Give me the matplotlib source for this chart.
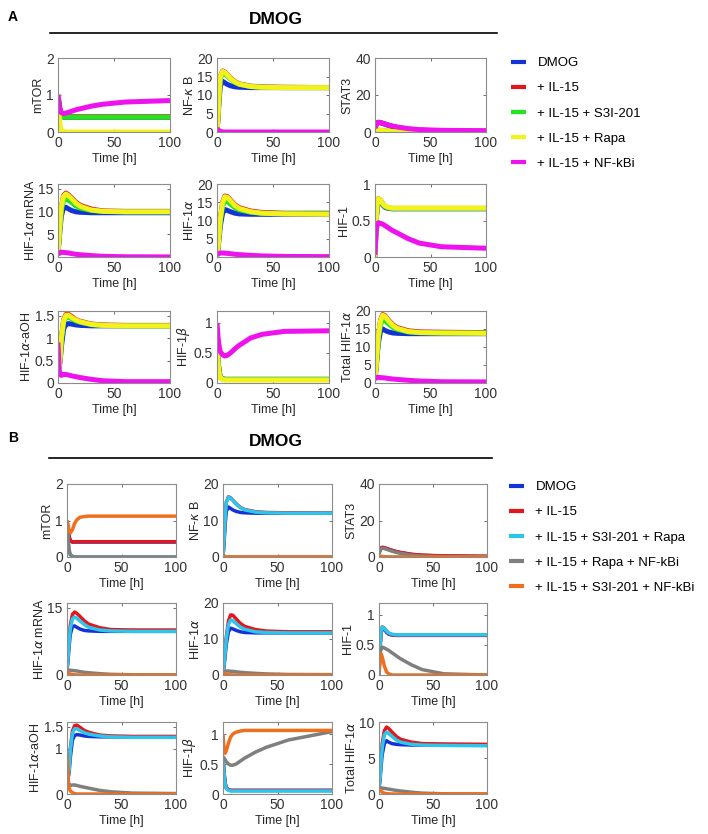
import numpy as np
import matplotlib.pyplot as plt
from matplotlib.lines import Line2D

plt.rcParams['font.family'] = ['Liberation Sans', 'DejaVu Sans']
plt.rcParams['mathtext.fontset'] = 'dejavusans'

W, H = 708, 834

# time points [h]
t = [0, 1, 2, 3, 5, 7, 9, 12, 16, 20, 30, 40, 60, 100]

labels_a = ['DMOG', '+ IL-15', '+ IL-15 + S3I-201', '+ IL-15 + Rapa', '+ IL-15 + NF-kBi']
labels_b = ['DMOG', '+ IL-15', '+ IL-15 + S3I-201 + Rapa', '+ IL-15 + Rapa + NF-kBi',
            '+ IL-15 + S3I-201 + NF-kBi']
colors_a = ['#1433d6', '#e3161c', '#1fe61f', '#f2f21c', '#ee12ee']
colors_b = ['#1433d6', '#e3161c', '#2cc6ec', '#7f7f7f', '#ee701e']

ylabels = ['mTOR', r'NF-$\kappa$ B', 'STAT3', r'HIF-1$\alpha$ mRNA', r'HIF-1$\alpha$', 'HIF-1',
           r'HIF-1$\alpha$-aOH', r'HIF-1$\beta$', r'Total HIF-1$\alpha$']

ylims_a = [2, 20, 40, 16, 20, 1, 1.6, 1.2, 20]
yticks_a = [[0, 1, 2], [0, 5, 10, 15, 20], [0, 20, 40], [0, 5, 10, 15], [0, 5, 10, 15, 20],
            [0, 0.5, 1], [0, 0.5, 1, 1.5], [0, 0.5, 1], [0, 5, 10, 15, 20]]
ylims_b = [2, 20, 40, 16, 20, 1.2, 1.6, 1.2, 10]
yticks_b = [[0, 1, 2], [0, 10, 20], [0, 20, 40], [0, 15], [0, 10, 20],
            [0, 0.5, 1], [0, 1, 1.5], [0, 0.5, 1], [0, 5, 10]]

# ---------- panel A ----------
a_mtor = [
    [1, 0.75, 0.55, 0.45, 0.40, 0.40, 0.40, 0.40, 0.40, 0.40, 0.40, 0.40, 0.40, 0.40],
    [1, 0.75, 0.55, 0.45, 0.41, 0.41, 0.41, 0.41, 0.41, 0.41, 0.41, 0.41, 0.41, 0.41],
    [1, 0.72, 0.52, 0.43, 0.40, 0.40, 0.40, 0.40, 0.40, 0.40, 0.40, 0.40, 0.40, 0.40],
    [1, 0.45, 0.15, 0.05, 0.01, 0, 0, 0, 0, 0, 0, 0, 0, 0],
    [1, 0.75, 0.58, 0.52, 0.50, 0.51, 0.53, 0.56, 0.60, 0.63, 0.70, 0.75, 0.81, 0.85],
]
a_nfkb = [
    [0, 4, 9, 12.5, 13.7, 13.3, 12.9, 12.5, 12.2, 12.1, 12.0, 12.0, 12.0, 12.0],
    [0, 5, 11, 15, 16.5, 16.2, 15.6, 14.6, 13.6, 13.0, 12.4, 12.2, 12.1, 12.0],
    [0, 5, 10.5, 14.5, 16.0, 15.8, 15.2, 14.3, 13.4, 12.9, 12.3, 12.1, 12.0, 12.0],
    [0, 5, 11, 15, 16.4, 16.1, 15.5, 14.5, 13.5, 12.9, 12.3, 12.1, 12.0, 12.0],
    [1, 0.6, 0.3, 0.15, 0.05, 0, 0, 0, 0, 0, 0, 0, 0, 0],
]
a_stat3 = [
    [2, 3.8, 4.8, 5.2, 5.0, 4.6, 4.2, 3.6, 2.9, 2.4, 1.4, 0.9, 0.5, 0.3],
    [2, 3.9, 4.9, 5.3, 5.1, 4.7, 4.3, 3.7, 3.0, 2.5, 1.5, 1.0, 0.6, 0.4],
    [1, 1.2, 1.1, 1.0, 0.8, 0.7, 0.6, 0.5, 0.35, 0.25, 0.1, 0.05, 0.02, 0],
    [1, 1.5, 1.5, 1.3, 1.0, 0.8, 0.6, 0.4, 0.25, 0.15, 0.05, 0.02, 0, 0],
    [2, 4.0, 4.9, 5.2, 5.0, 4.7, 4.4, 3.8, 3.2, 2.7, 1.8, 1.3, 0.9, 0.7],
]
a_mrna = [
    [1, 3.5, 6.5, 9, 10.8, 10.9, 10.6, 10.2, 9.9, 9.8, 9.7, 9.7, 9.7, 9.7],
    [1, 4.5, 8, 11, 13.5, 14.0, 13.7, 13.0, 12.0, 11.3, 10.5, 10.1, 10.0, 10.0],
    [1, 4.2, 7.5, 10.3, 12.5, 12.8, 12.5, 12.0, 11.2, 10.7, 10.2, 10.0, 9.9, 9.9],
    [1, 4.5, 8, 11, 13.3, 13.8, 13.5, 12.8, 11.8, 11.1, 10.3, 10.0, 9.9, 9.9],
    [0.5, 0.8, 1.0, 1.05, 1.0, 0.95, 0.9, 0.75, 0.6, 0.5, 0.3, 0.15, 0.05, 0.02],
]
a_hif1a = [
    [0.5, 2.5, 5.5, 8.5, 12, 13, 12.8, 12.4, 12.0, 11.8, 11.7, 11.7, 11.7, 11.7],
    [0.5, 3, 7, 10.5, 15, 16.7, 16.6, 15.6, 14.3, 13.5, 12.6, 12.2, 12.0, 12.0],
    [0.5, 3, 6.5, 10, 14, 15.5, 15.3, 14.5, 13.5, 12.9, 12.3, 12.0, 11.9, 11.9],
    [0.5, 3, 7, 10.5, 14.8, 16.5, 16.4, 15.4, 14.1, 13.3, 12.4, 12.0, 11.8, 11.7],
    [0.5, 0.8, 1.0, 1.1, 1.1, 1.05, 1.0, 0.9, 0.75, 0.65, 0.45, 0.3, 0.15, 0.1],
]
a_hif1 = [
    [0, 0.45, 0.7, 0.78, 0.76, 0.71, 0.68, 0.665, 0.66, 0.66, 0.66, 0.66, 0.66, 0.66],
    [0, 0.48, 0.72, 0.8, 0.78, 0.73, 0.69, 0.67, 0.665, 0.665, 0.665, 0.665, 0.665, 0.665],
    [0, 0.47, 0.71, 0.79, 0.77, 0.72, 0.69, 0.67, 0.665, 0.665, 0.665, 0.665, 0.665, 0.665],
    [0, 0.5, 0.73, 0.8, 0.78, 0.73, 0.7, 0.68, 0.67, 0.67, 0.67, 0.67, 0.67, 0.67],
    [0.03, 0.35, 0.45, 0.47, 0.46, 0.45, 0.43, 0.40, 0.36, 0.33, 0.25, 0.19, 0.14, 0.12],
]
a_aoh = [
    [0.9, 0.35, 0.5, 0.8, 1.2, 1.3, 1.32, 1.31, 1.29, 1.28, 1.27, 1.27, 1.27, 1.27],
    [0.9, 0.35, 0.6, 1.0, 1.4, 1.52, 1.53, 1.48, 1.41, 1.37, 1.31, 1.29, 1.28, 1.28],
    [0.9, 0.35, 0.55, 0.95, 1.35, 1.46, 1.47, 1.43, 1.38, 1.35, 1.30, 1.28, 1.27, 1.27],
    [0.9, 0.35, 0.6, 1.0, 1.38, 1.5, 1.51, 1.46, 1.40, 1.36, 1.30, 1.28, 1.27, 1.27],
    [0.9, 0.3, 0.18, 0.17, 0.19, 0.19, 0.18, 0.16, 0.14, 0.12, 0.08, 0.05, 0.03, 0.03],
]
a_hif1b = [
    [0.6, 0.35, 0.18, 0.1, 0.07, 0.06, 0.06, 0.06, 0.06, 0.06, 0.06, 0.06, 0.06, 0.06],
    [0.6, 0.35, 0.18, 0.1, 0.07, 0.06, 0.06, 0.06, 0.06, 0.06, 0.06, 0.06, 0.06, 0.06],
    [0.6, 0.35, 0.18, 0.1, 0.07, 0.06, 0.06, 0.06, 0.06, 0.06, 0.06, 0.06, 0.06, 0.06],
    [0.6, 0.3, 0.15, 0.08, 0.06, 0.05, 0.05, 0.05, 0.05, 0.05, 0.05, 0.05, 0.05, 0.05],
    [1, 0.75, 0.6, 0.52, 0.47, 0.45, 0.46, 0.5, 0.57, 0.63, 0.75, 0.81, 0.86, 0.87],
]
a_total = [
    [1.5, 4, 7.5, 11, 14.5, 15, 14.6, 14.2, 13.9, 13.8, 13.7, 13.7, 13.7, 13.7],
    [1.5, 4.5, 9, 13, 17.5, 19, 18.7, 17.5, 16.2, 15.4, 14.5, 14.2, 14.1, 14.0],
    [1.5, 4.5, 8.5, 12.5, 16.3, 17.6, 17.3, 16.5, 15.5, 14.9, 14.2, 14.0, 13.9, 13.9],
    [1.5, 4.5, 9, 13, 17.3, 18.8, 18.5, 17.3, 16.0, 15.2, 14.3, 14.0, 13.9, 13.8],
    [1, 1.4, 1.6, 1.6, 1.5, 1.45, 1.4, 1.25, 1.1, 1.0, 0.75, 0.55, 0.35, 0.3],
]

# ---------- panel B ----------
b_mtor = [
    [1, 0.75, 0.55, 0.45, 0.41, 0.41, 0.41, 0.41, 0.41, 0.41, 0.41, 0.41, 0.41, 0.41],
    [1, 0.75, 0.55, 0.45, 0.41, 0.42, 0.42, 0.42, 0.42, 0.42, 0.42, 0.42, 0.42, 0.42],
    [1, 0.45, 0.15, 0.05, 0.01, 0, 0, 0, 0, 0, 0, 0, 0, 0],
    [1, 0.5, 0.2, 0.07, 0.02, 0, 0, 0, 0, 0, 0, 0, 0, 0],
    [1, 0.85, 0.72, 0.66, 0.75, 0.92, 1.02, 1.09, 1.11, 1.12, 1.12, 1.12, 1.12, 1.12],
]
b_nfkb = [
    [0, 4, 9, 12.5, 13.7, 13.3, 12.9, 12.5, 12.2, 12.1, 12.0, 12.0, 12.0, 12.0],
    [0, 5, 11, 15, 16.5, 16.2, 15.6, 14.6, 13.6, 13.0, 12.4, 12.2, 12.1, 12.0],
    [0, 5, 11, 15, 16.4, 16.1, 15.5, 14.5, 13.5, 12.9, 12.3, 12.1, 12.0, 12.0],
    [0.5, 0.3, 0.1, 0, 0, 0, 0, 0, 0, 0, 0, 0, 0, 0],
    [0.5, 0.3, 0.1, 0, 0, 0, 0, 0, 0, 0, 0, 0, 0, 0],
]
b_stat3 = [
    [2, 3.8, 4.8, 5.2, 5.0, 4.6, 4.2, 3.6, 2.9, 2.4, 1.4, 0.9, 0.5, 0.3],
    [2, 3.9, 4.9, 5.3, 5.1, 4.7, 4.3, 3.7, 3.0, 2.5, 1.5, 1.0, 0.6, 0.4],
    [0.5, 0.5, 0.4, 0.3, 0.2, 0.1, 0.05, 0, 0, 0, 0, 0, 0, 0],
    [2, 3.6, 4.5, 4.8, 4.6, 4.2, 3.8, 3.2, 2.5, 2.0, 1.0, 0.5, 0.2, 0.1],
    [0.5, 0.4, 0.3, 0.2, 0.1, 0.05, 0, 0, 0, 0, 0, 0, 0, 0],
]
b_mrna = [
    [1, 3.5, 6.5, 9, 10.8, 10.9, 10.6, 10.2, 9.9, 9.8, 9.7, 9.7, 9.7, 9.7],
    [1, 4.5, 8, 11, 13.5, 14.0, 13.7, 13.0, 12.0, 11.3, 10.5, 10.1, 10.0, 10.0],
    [1, 4.2, 7.5, 10.3, 12.5, 12.9, 12.6, 12.0, 11.2, 10.6, 10.0, 9.8, 9.7, 9.7],
    [1, 1.1, 1.1, 1.05, 1.0, 0.95, 0.9, 0.75, 0.6, 0.5, 0.3, 0.15, 0.05, 0.02],
    [1, 0.6, 0.35, 0.2, 0.1, 0.05, 0, 0, 0, 0, 0, 0, 0, 0],
]
b_hif1a = [
    [0.5, 2.5, 5.5, 8.5, 12, 13, 12.8, 12.4, 12.0, 11.8, 11.7, 11.7, 11.7, 11.7],
    [0.5, 3, 7, 10.5, 15, 16.7, 16.6, 15.6, 14.3, 13.5, 12.6, 12.2, 12.0, 12.0],
    [0.5, 3, 6.5, 10, 14, 15.3, 15.1, 14.3, 13.3, 12.7, 12.0, 11.8, 11.7, 11.7],
    [0.5, 0.8, 1.0, 1.1, 1.1, 1.05, 1.0, 0.9, 0.75, 0.65, 0.45, 0.3, 0.15, 0.1],
    [0.5, 0.5, 0.35, 0.2, 0.1, 0.05, 0.02, 0, 0, 0, 0, 0, 0, 0],
]
b_hif1 = [
    [0, 0.45, 0.7, 0.78, 0.76, 0.71, 0.68, 0.665, 0.66, 0.66, 0.66, 0.66, 0.66, 0.66],
    [0, 0.48, 0.72, 0.8, 0.78, 0.73, 0.69, 0.67, 0.665, 0.665, 0.665, 0.665, 0.665, 0.665],
    [0, 0.5, 0.73, 0.8, 0.78, 0.73, 0.7, 0.68, 0.67, 0.67, 0.67, 0.67, 0.67, 0.67],
    [0.03, 0.35, 0.44, 0.46, 0.45, 0.43, 0.41, 0.37, 0.32, 0.27, 0.17, 0.09, 0.02, 0],
    [0.03, 0.3, 0.35, 0.3, 0.15, 0.05, 0.02, 0, 0, 0, 0, 0, 0, 0],
]
b_aoh = [
    [0.9, 0.35, 0.5, 0.8, 1.2, 1.3, 1.32, 1.31, 1.29, 1.28, 1.27, 1.27, 1.27, 1.27],
    [0.9, 0.35, 0.6, 1.0, 1.4, 1.52, 1.53, 1.48, 1.41, 1.37, 1.31, 1.29, 1.28, 1.28],
    [0.9, 0.35, 0.55, 0.95, 1.35, 1.45, 1.45, 1.41, 1.36, 1.33, 1.29, 1.27, 1.26, 1.26],
    [0.9, 0.3, 0.19, 0.19, 0.2, 0.2, 0.19, 0.17, 0.15, 0.13, 0.08, 0.05, 0.02, 0.01],
    [0.9, 0.3, 0.13, 0.07, 0.03, 0.01, 0, 0, 0, 0, 0, 0, 0, 0],
]
b_hif1b = [
    [0.6, 0.35, 0.18, 0.1, 0.07, 0.06, 0.06, 0.06, 0.06, 0.06, 0.06, 0.06, 0.06, 0.06],
    [0.6, 0.35, 0.18, 0.1, 0.07, 0.06, 0.06, 0.06, 0.06, 0.06, 0.06, 0.06, 0.06, 0.06],
    [0.6, 0.33, 0.16, 0.09, 0.06, 0.05, 0.05, 0.05, 0.05, 0.05, 0.05, 0.05, 0.05, 0.05],
    [0.62, 0.6, 0.57, 0.54, 0.5, 0.48, 0.48, 0.5, 0.55, 0.6, 0.7, 0.78, 0.9, 1.04],
    [1, 0.72, 0.68, 0.72, 0.85, 0.95, 1.0, 1.03, 1.05, 1.06, 1.06, 1.06, 1.06, 1.06],
]
b_total = [
    [0.8, 2, 4, 5.5, 7, 7.4, 7.2, 7.0, 6.9, 6.85, 6.8, 6.8, 6.8, 6.8],
    [0.8, 2.5, 5, 7, 8.8, 9.3, 9.1, 8.6, 8.0, 7.6, 7.2, 7.0, 6.95, 6.9],
    [0.8, 2.3, 4.7, 6.5, 8.2, 8.6, 8.4, 8.0, 7.5, 7.2, 6.9, 6.8, 6.75, 6.7],
    [0.8, 0.85, 0.85, 0.82, 0.78, 0.73, 0.68, 0.6, 0.5, 0.42, 0.25, 0.12, 0.03, 0],
    [0.8, 0.6, 0.4, 0.25, 0.1, 0.05, 0.02, 0, 0, 0, 0, 0, 0, 0],
]

data_a = [a_mtor, a_nfkb, a_stat3, a_mrna, a_hif1a, a_hif1, a_aoh, a_hif1b, a_total]
data_b = [b_mtor, b_nfkb, b_stat3, b_mrna, b_hif1a, b_hif1, b_aoh, b_hif1b, b_total]


def px_box(x1, y1, x2, y2):
    return [x1 / W, 1 - y2 / H, (x2 - x1) / W, (y2 - y1) / H]


def draw_panel(fig, data, labels, colors, ylims, yticks, cols, rows, lw,
               letter, letter_y, title_y, rule, legend_xy):
    lines = []
    for k, series in enumerate(data):
        x1, x2 = cols[k % 3]
        y1, y2 = rows[k // 3]
        ax = fig.add_axes(px_box(x1, y1, x2, y2))
        for vals, c in zip(series, colors):
            ln, = ax.plot(t, vals, color=c, lw=lw, solid_capstyle='butt')
            if k == 0:
                lines.append(ln)
        ax.set_xlim(0, 100)
        ax.set_ylim(0, ylims[k])
        ax.set_xticks([0, 50, 100])
        ax.set_yticks(yticks[k])
        ax.set_yticklabels(['%g' % v for v in yticks[k]])
        ax.tick_params(direction='in', top=True, right=True, length=2.5, width=0.6,
                       labelsize=10, labelcolor='#333333', color='#555555', pad=3)
        for s in ax.spines.values():
            s.set_color('#8c8c8c')
            s.set_linewidth(0.8)
        ax.set_xlabel('Time [h]', fontsize=9, color='#262626', labelpad=2)
        ax.set_ylabel(ylabels[k], fontsize=9, color='#262626', labelpad=1)
    fig.text(8 / W, 1 - letter_y / H, letter, fontsize=10, fontweight='bold', va='center')
    fig.text(276 / W, 1 - title_y / H, 'DMOG', fontsize=12.5, fontweight='bold',
             ha='center', va='center')
    fig.add_artist(Line2D([rule[0] / W, rule[1] / W], [1 - rule[2] / H] * 2,
                          color='black', lw=1.2))
    fig.legend(lines, labels, loc='upper left', frameon=False, fontsize=9.5,
               bbox_to_anchor=(legend_xy[0] / W, 1 - legend_xy[1] / H),
               handlelength=1.15, handletextpad=0.85, labelspacing=0.98,
               borderpad=0, borderaxespad=0)
    for h in fig.legends[-1].get_lines():
        h.set_linewidth(3)


fig = plt.figure(figsize=(W / 100, H / 100), dpi=100)

draw_panel(fig, data_a, labels_a, colors_a, ylims_a, yticks_a,
           cols=[(58, 170), (217, 329), (375, 486)],
           rows=[(58, 132), (184, 257), (311, 383)], lw=3.6,
           letter='A', letter_y=17, title_y=19, rule=(50, 497, 33), legend_xy=(511, 57))

draw_panel(fig, data_b, labels_b, colors_b, ylims_b, yticks_b,
           cols=[(67, 176), (223, 332), (379, 487)],
           rows=[(484, 557), (603, 675), (722, 794)], lw=2.5,
           letter='B', letter_y=438, title_y=441, rule=(49, 492, 458), legend_xy=(509, 481))

fig.savefig('out.png', dpi=100)
